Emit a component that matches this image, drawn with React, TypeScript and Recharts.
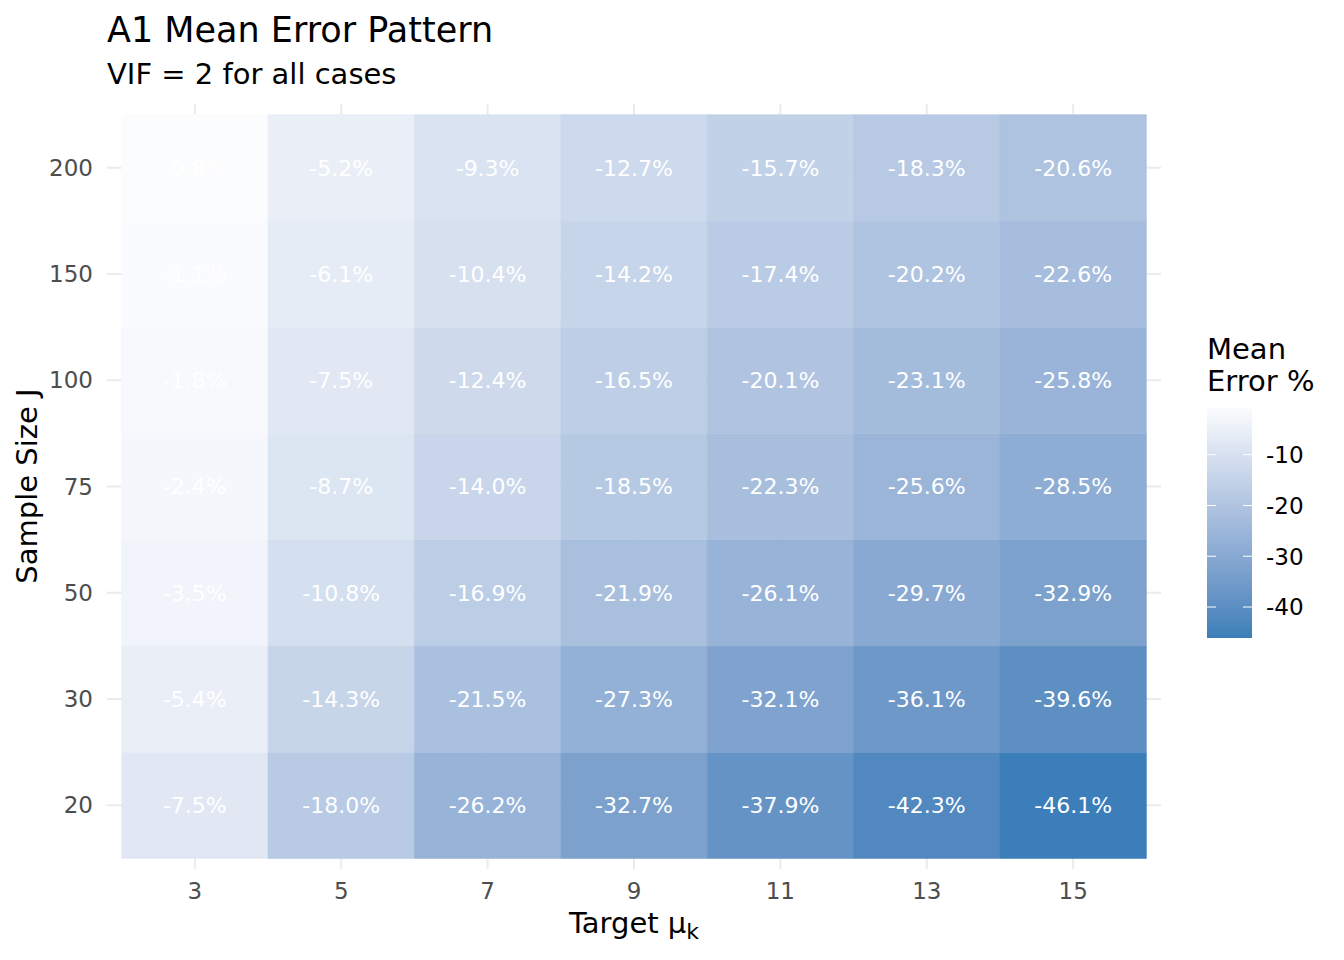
import React from 'react';
import {
  ScatterChart,
  Scatter,
  XAxis,
  YAxis,
  CartesianGrid,
  ReferenceArea
} from 'recharts';

// categories
const TARGET_MU = [3, 5, 7, 9, 11, 13, 15];
const SAMPLE_J = [20, 30, 50, 75, 100, 150, 200];

// mean error (%) by sample size, one value per target mu
const ERR_J20 = [-7.5, -18.0, -26.2, -32.7, -37.9, -42.3, -46.1];
const ERR_J30 = [-5.4, -14.3, -21.5, -27.3, -32.1, -36.1, -39.6];
const ERR_J50 = [-3.5, -10.8, -16.9, -21.9, -26.1, -29.7, -32.9];
const ERR_J75 = [-2.4, -8.7, -14.0, -18.5, -22.3, -25.6, -28.5];
const ERR_J100 = [-1.8, -7.5, -12.4, -16.5, -20.1, -23.1, -25.8];
const ERR_J150 = [-1.1, -6.1, -10.4, -14.2, -17.4, -20.2, -22.6];
const ERR_J200 = [-0.8, -5.2, -9.3, -12.7, -15.7, -18.3, -20.6];
const ERR_ROWS = [ERR_J20, ERR_J30, ERR_J50, ERR_J75, ERR_J100, ERR_J150, ERR_J200];

const LEGEND_TICKS = [-10, -20, -30, -40];
const AXIS_TICKS = [0, 1, 2, 3, 4, 5, 6];
const DOMAIN: [number, number] = [-0.6, 6.6];

const FONT = '"DejaVu Sans", sans-serif';
const LOW = [59, 126, 185];
const HIGH = [251, 252, 254];

// colour scale (interpolated in Lab like ggplot)
const toLin = (c: number) => {
  c /= 255;
  return c <= 0.04045 ? c / 12.92 : Math.pow((c + 0.055) / 1.055, 2.4);
};
const fromLin = (c: number) => {
  const v = c <= 0.0031308 ? 12.92 * c : 1.055 * Math.pow(c, 1 / 2.4) - 0.055;
  return Math.round(Math.min(1, Math.max(0, v)) * 255);
};
const WN = [0.95047, 1, 1.08883];
const f = (t: number) => (t > 0.008856 ? Math.cbrt(t) : 7.787 * t + 16 / 116);
const finv = (t: number) => (t > 0.206893 ? t * t * t : (t - 16 / 116) / 7.787);

const rgbToLab = (rgb: number[]) => {
  const [r, g, b] = rgb.map(toLin);
  const x = (0.4124 * r + 0.3576 * g + 0.1805 * b) / WN[0];
  const y = (0.2126 * r + 0.7152 * g + 0.0722 * b) / WN[1];
  const z = (0.0193 * r + 0.1192 * g + 0.9505 * b) / WN[2];
  const fx = f(x), fy = f(y), fz = f(z);
  return [116 * fy - 16, 500 * (fx - fy), 200 * (fy - fz)];
};
const labToHex = (lab: number[]) => {
  const fy = (lab[0] + 16) / 116;
  const fx = fy + lab[1] / 500;
  const fz = fy - lab[2] / 200;
  const x = finv(fx) * WN[0], y = finv(fy) * WN[1], z = finv(fz) * WN[2];
  const r = 3.2406 * x - 1.5372 * y - 0.4986 * z;
  const g = -0.9689 * x + 1.8758 * y + 0.0415 * z;
  const b = 0.0557 * x - 0.204 * y + 1.057 * z;
  return '#' + [r, g, b].map((c) => fromLin(c).toString(16).padStart(2, '0')).join('');
};

const allVals = ERR_ROWS.flat();
const vMin = Math.min(...allVals);
const vMax = Math.max(...allVals);
const LAB_LOW = rgbToLab(LOW);
const LAB_HIGH = rgbToLab(HIGH);
const colorFor = (v: number) => {
  const t = (vMax - v) / (vMax - vMin);
  return labToHex(LAB_HIGH.map((h, i) => h + (LAB_LOW[i] - h) * t));
};

const cells = SAMPLE_J.flatMap((j, yi) =>
  TARGET_MU.map((mu, xi) => ({ x: xi, y: yi, mu, j, v: ERR_ROWS[yi][xi] }))
);

// grid lines only at the category centres (no panel border)
const span = DOMAIN[1] - DOMAIN[0];
const vGrid = ({ offset }: any) =>
  AXIS_TICKS.map((t) => offset.left + ((t - DOMAIN[0]) / span) * offset.width);
const hGrid = ({ offset }: any) =>
  AXIS_TICKS.map((t) => offset.top + ((DOMAIN[1] - t) / span) * offset.height);

// legend bar geometry
const BAR_X = 1207;
const BAR_W = 45;
const BAR_TOP = 408;
const BAR_H = 230;
const barY = (v: number) => BAR_TOP + ((vMax - v) / (vMax - vMin)) * BAR_H;

const Overlay = () => {
  const stops = Array.from({ length: 21 }, (_, i) => i / 20);
  return (
    <svg
      width={1344}
      height={960}
      style={{ position: 'absolute', left: 0, top: 0, pointerEvents: 'none' }}
      fontFamily={FONT}
    >
      <defs>
        <linearGradient id="errGrad" x1="0" y1="0" x2="0" y2="1">
          {stops.map((s) => (
            <stop key={s} offset={s} stopColor={colorFor(vMax - s * (vMax - vMin))} />
          ))}
        </linearGradient>
      </defs>
      <text x={107} y={42} fontSize={35} fill="#000">A1 Mean Error Pattern</text>
      <text x={107} y={84} fontSize={29} fill="#000">VIF = 2 for all cases</text>
      <text
        x={37}
        y={486}
        fontSize={29}
        textAnchor="middle"
        transform="rotate(-90, 37, 486)"
      >
        Sample Size J
      </text>
      <text x={634} y={933} fontSize={29} textAnchor="middle">
        Target μ<tspan fontSize={22} dy={6}>k</tspan>
      </text>
      <text x={1207} y={359} fontSize={29}>Mean</text>
      <text x={1207} y={391} fontSize={29}>Error %</text>
      <rect x={BAR_X} y={BAR_TOP} width={BAR_W} height={BAR_H} fill="url(#errGrad)" />
      {LEGEND_TICKS.map((t) => (
        <g key={t}>
          <line x1={BAR_X} x2={BAR_X + 9} y1={barY(t)} y2={barY(t)} stroke="#fff" strokeWidth={1} />
          <line x1={BAR_X + BAR_W - 9} x2={BAR_X + BAR_W} y1={barY(t)} y2={barY(t)} stroke="#fff" strokeWidth={1} />
          <text x={1266} y={barY(t)} dy="0.36em" fontSize={23} fill="#000">{t}</text>
        </g>
      ))}
    </svg>
  );
};

export default function App() {
  const tick = { fill: '#4D4D4D', fontSize: 23, fontFamily: FONT };
  return (
    <div style={{ position: 'absolute', left: 0, top: 0, width: 1344, height: 960, background: '#fff' }}>
      <ScatterChart width={1344} height={960} margin={{ top: 104, right: 183, bottom: 0, left: 0 }}>
        <CartesianGrid
          stroke="#EBEBEB"
          strokeWidth={2}
          verticalCoordinatesGenerator={vGrid}
          horizontalCoordinatesGenerator={hGrid}
        />
        <XAxis
          type="number"
          dataKey="x"
          domain={DOMAIN}
          ticks={AXIS_TICKS}
          tickFormatter={(i: number) => String(TARGET_MU[i])}
          height={91}
          axisLine={false}
          tickLine={false}
          tickSize={6}
          tickMargin={8}
          tick={tick}
          interval={0}
        />
        <YAxis
          type="number"
          dataKey="y"
          domain={DOMAIN}
          ticks={AXIS_TICKS}
          tickFormatter={(i: number) => String(SAMPLE_J[i])}
          width={107}
          axisLine={false}
          tickLine={false}
          tickSize={6}
          tickMargin={8}
          tick={tick}
          interval={0}
        />
        {cells.map((c) => {
          const fill = colorFor(c.v);
          return (
            <ReferenceArea
              key={`${c.x}-${c.y}`}
              x1={c.x - 0.5}
              x2={c.x + 0.5}
              y1={c.y - 0.5}
              y2={c.y + 0.5}
              fill={fill}
              fillOpacity={1}
              stroke={fill}
              strokeWidth={0.6}
              label={{
                value: `${c.v.toFixed(1)}%`,
                position: 'center',
                fill: '#fff',
                fontSize: 22,
                fontFamily: FONT
              }}
            />
          );
        })}
        <Scatter data={cells} isAnimationActive={false} shape={() => <g />} />
      </ScatterChart>
      <Overlay />
    </div>
  );
}
